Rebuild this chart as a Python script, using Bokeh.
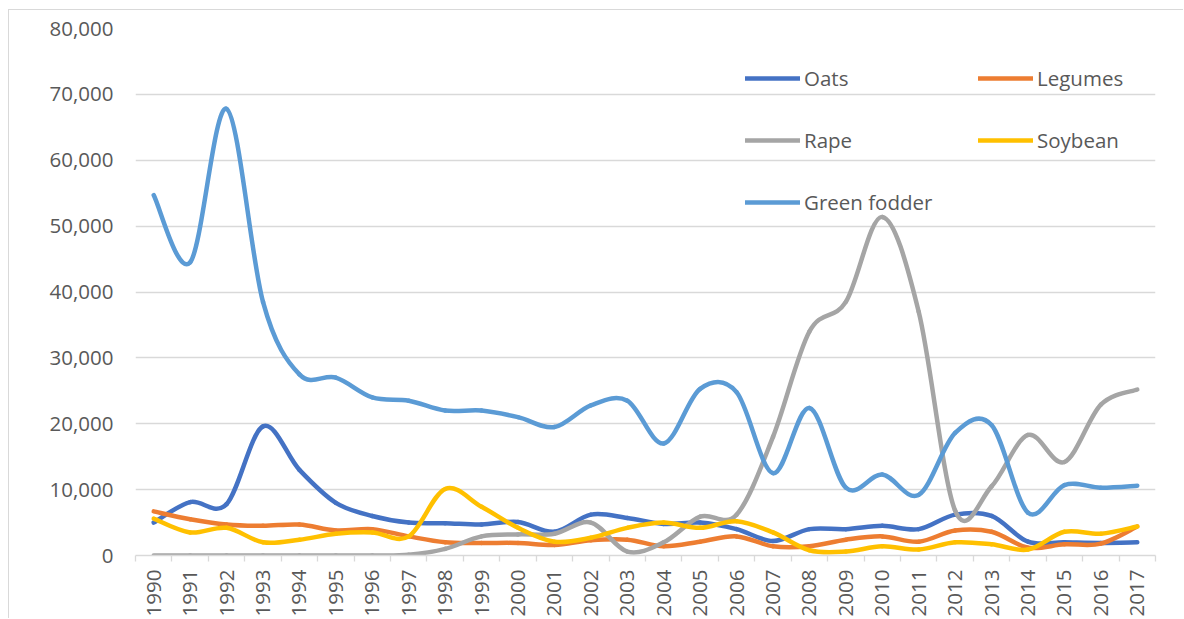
import math
from bokeh.plotting import figure
from bokeh.models import Range1d, FixedTicker, NumeralTickFormatter, ColumnDataSource
from bokeh.embed import file_html
from bokeh.resources import INLINE

years = [str(y) for y in range(1990, 2018)]

oats = [5000, 8100, 7800, 19600, 13000, 8000, 6000, 5000, 4900, 4700, 5100, 3600, 6200, 5700,
        4800, 5000, 4000, 2200, 4000, 4000, 4500, 4000, 6200, 6000, 2100, 2000, 1900, 2000]
legumes = [6700, 5500, 4700, 4500, 4700, 3800, 4000, 2900, 2000, 1900, 1900, 1600, 2300, 2400,
           1400, 2100, 2900, 1400, 1400, 2400, 2900, 2100, 3800, 3600, 1200, 1700, 1800, 4400]
rape = [0, 0, 0, 0, 0, 0, 0, 100, 1000, 2900, 3200, 3300, 5000, 600,
        2000, 5900, 6200, 18000, 34000, 38500, 51400, 37000, 6800, 10500, 18300, 14200, 22900, 25200]
soybean = [5600, 3500, 4200, 2000, 2400, 3300, 3500, 2900, 10100, 7400, 4200, 2100, 2700, 4200,
           5000, 4200, 5200, 3500, 800, 600, 1400, 900, 2000, 1700, 900, 3600, 3300, 4400]
green_fodder = [54700, 44500, 67800, 38500, 27500, 27000, 24000, 23500, 22000, 22000, 21000, 19500, 22800, 23500,
                17000, 25300, 24800, 12500, 22400, 10300, 12300, 9200, 18600, 19800, 6500, 10700, 10300, 10600]

series = [("Oats", oats, "#4472C4"), ("Legumes", legumes, "#ED7D31"), ("Rape", rape, "#A5A5A5"),
          ("Soybean", soybean, "#FFC000"), ("Green fodder", green_fodder, "#5B9BD5")]

FONT = "Open Sans"
FS = "20.5px"
TXT = "#595959"
GRID = "#D9D9D9"

p = figure(width=1175, height=609, x_range=Range1d(-0.5, 27.5), y_range=Range1d(0, 80000),
           output_backend="svg", toolbar_location=None,
           min_border_left=126, min_border_right=29, min_border_top=18, min_border_bottom=50)
p.outline_line_color = None
p.background_fill_color = "white"
p.border_fill_color = "white"
p.styles = {"margin-left": "8px", "margin-top": "9px",
            "border-left": "1px solid #D9D9D9", "border-top": "1px solid #D9D9D9"}

p.xgrid.visible = False
p.ygrid.grid_line_color = GRID
p.ygrid.grid_line_width = 1.3

xa = p.xaxis[0]
xa.ticker = FixedTicker(ticks=list(range(len(years))), minor_ticks=[i - 0.5 for i in range(len(years) + 1)])
xa.major_label_overrides = {i: y for i, y in enumerate(years)}
xa.major_label_orientation = math.pi / 2
xa.axis_line_color = GRID
xa.axis_line_width = 1.3
xa.major_tick_line_color = None
xa.major_tick_out = 0
xa.major_tick_in = 0
xa.minor_tick_line_color = GRID
xa.minor_tick_line_width = 1.3
xa.minor_tick_out = 6
xa.minor_tick_in = 0
xa.major_label_standoff = 8
xa.major_label_text_font = FONT
xa.major_label_text_font_size = FS
xa.major_label_text_color = TXT

ya = p.yaxis[0]
ya.ticker = FixedTicker(ticks=list(range(0, 80001, 10000)))
ya.formatter = NumeralTickFormatter(format="0,0")
ya.axis_line_color = None
ya.major_tick_line_color = None
ya.minor_tick_line_color = None
ya.major_tick_out = 0
ya.major_label_standoff = 22
ya.major_label_text_font = FONT
ya.major_label_text_font_size = FS
ya.major_label_text_color = TXT


def smooth_segments(vals):
    n = len(vals)
    d = dict(x0=[], y0=[], x1=[], y1=[], cx0=[], cy0=[], cx1=[], cy1=[])
    for i in range(n - 1):
        a = i - 1 if i > 0 else i
        b = i + 2 if i + 2 < n else i + 1
        d["x0"].append(i)
        d["y0"].append(vals[i])
        d["x1"].append(i + 1)
        d["y1"].append(vals[i + 1])
        d["cx0"].append(i + (i + 1 - a) / 6)
        d["cy0"].append(vals[i] + (vals[i + 1] - vals[a]) / 6)
        d["cx1"].append(i + 1 - (b - i) / 6)
        d["cy1"].append(vals[i + 1] - (vals[b] - vals[i]) / 6)
    return ColumnDataSource(d)


for name, vals, color in series:
    src = smooth_segments(vals)
    p.bezier(x0="x0", y0="y0", x1="x1", y1="y1", cx0="cx0", cy0="cy0", cx1="cx1", cy1="cy1",
             source=src, line_color=color, line_width=4.5, line_cap="round", legend_label=name)

lg = p.legend[0]
# column-major fill with 3 rows -> reads row by row as Oats, Legumes / Rape, Soybean / Green fodder
by_label = {it.label.value: it for it in lg.items}
lg.items = [by_label[k] for k in ["Oats", "Rape", "Green fodder", "Legumes", "Soybean"]]
lg.ncols = 2
lg.location = (610, 339)
lg.glyph_width = 55
lg.glyph_height = 28
lg.label_height = 28
lg.label_width = 140
lg.label_standoff = 4
lg.spacing = 34
lg.padding = 0
lg.margin = 0
lg.border_line_color = None
lg.background_fill_alpha = 0
lg.label_text_font = FONT
lg.label_text_font_size = FS
lg.label_text_color = TXT

open("out.html", "w").write(file_html(p, INLINE))
